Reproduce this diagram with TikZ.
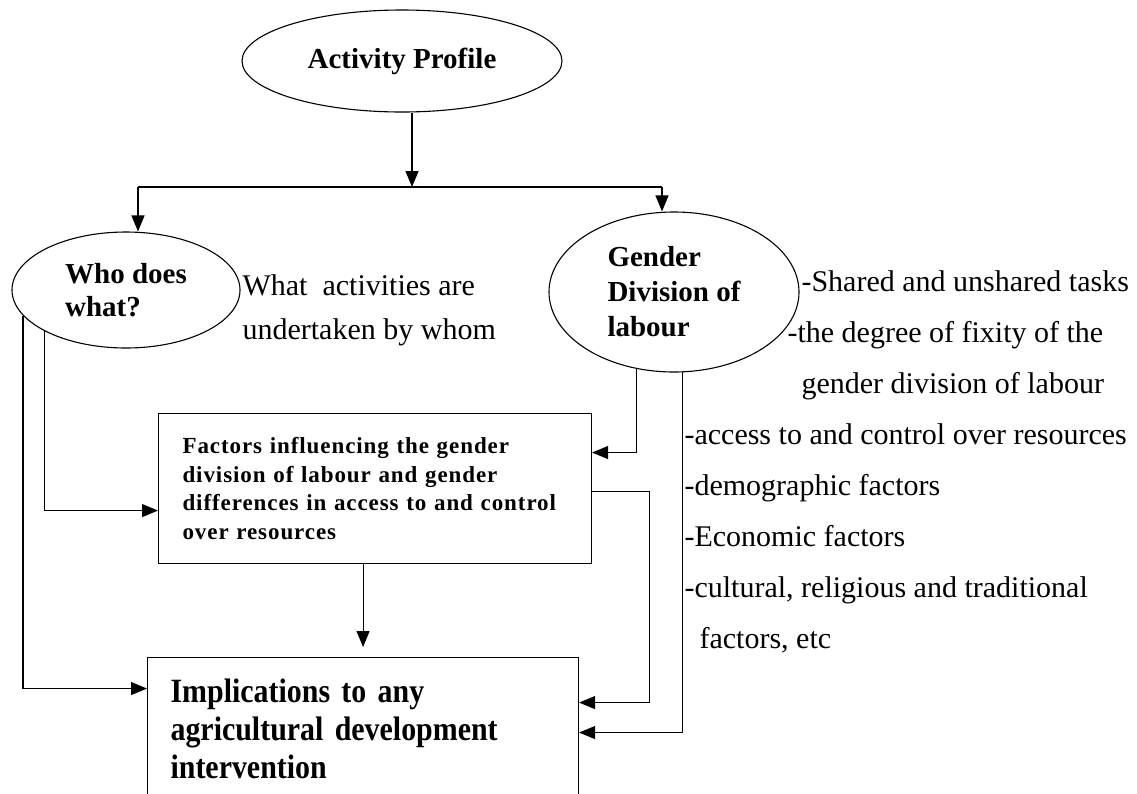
\documentclass[tikz,border=0pt]{standalone}
\usepackage{fontspec}
\setmainfont{Liberation Serif}
\newfontfamily\condfont{Liberation Serif}[FakeStretch=0.88]
\newfontfamily\widefont{Liberation Serif}[LetterSpace=4]
\usetikzlibrary{shapes.geometric,arrows.meta}

\begin{document}
\begin{tikzpicture}[x=1pt,y=-1pt,line width=1.1pt,
  oval/.style={draw, ellipse, inner sep=0pt, align=left, font=\fontsize{29}{34}\selectfont\bfseries},
  box/.style={draw, rectangle, inner sep=0pt, anchor=north west, align=left},
  arr/.style={-{Triangle[length=16pt,width=13pt]}},
  note/.style={anchor=base west, inner sep=0pt, font=\fontsize{30}{36}\selectfont}]
\useasboundingbox (0,0) rectangle (1137,793);

\node[oval, minimum width=320pt, minimum height=102pt] (ap) at (402,61) {Activity Profile};
\node[oval, minimum width=228pt, minimum height=116pt, font=\fontsize{29}{33}\selectfont\bfseries] (who) at (126,290) {Who does\\what?};
\node[oval, minimum width=250pt, minimum height=160pt, font=\fontsize{29}{35}\selectfont\bfseries] (gdl) at (674,292) {Gender\\Division of\\labour};

\node[box, minimum width=433pt, minimum height=150pt, text width=385pt, font=\widefont\fontsize{23}{28.7}\selectfont\bfseries] (fac) at (158,413) {Factors influencing the gender\\division of labour and gender\\differences in access to and control\\over resources};
\node[box, minimum width=431pt, minimum height=143pt, text width=385pt, font=\condfont\fontsize{34}{38}\selectfont\bfseries] (imp) at (147,657) {Implications to any\\agricultural development\\intervention};

\node[note] (what1) at (242,295) {What~ activities are};
\node[note] (what2) at (242,339) {undertaken by whom};

\node[note] (f1) at (801,291) {-Shared and unshared tasks};
\node[note] (f2) at (787,342) {-the degree of fixity of the};
\node[note] (f3) at (801,393) {gender division of labour};
\node[note] (f4) at (684,444) {-access to and control over resources};
\node[note] (f5) at (684,495) {-demographic factors};
\node[note] (f6) at (684,546) {-Economic factors};
\node[note] (f7) at (684,597) {-cultural, religious and traditional};
\node[note] (f8) at (699,648) {factors, etc};

\coordinate (split) at (412,187);
\coordinate (wt) at (138,187);
\coordinate (gt) at (662,187);
\path[draw,arr] (ap.south -| split) -- (split);
\path[draw] (wt) -- (gt);
\path[draw,arr] (wt) -- (wt |- who.north);
\path[draw,arr] (gt) -- (gt |- gdl.north);

\path[draw,arr] (who.207) |- ([yshift=-22pt]fac.west);
\path[draw,arr] (who.194) |- ([yshift=40.5pt]imp.west);
\path[draw,arr] (gdl.244) |- ([yshift=36pt]fac.east);
\path[draw,arr] (gdl.276) |- ([yshift=-3.5pt]imp.east);
\path[draw,arr] ([yshift=-3pt]fac.east) -- ++(57,0) |- ([yshift=26.5pt]imp.east);
\path[draw,arr] (imp.north |- fac.south) -- ([yshift=10pt]imp.north);
\end{tikzpicture}
\end{document}
